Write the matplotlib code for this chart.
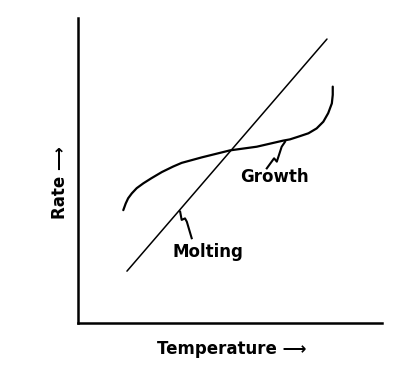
import matplotlib
matplotlib.use("Agg")
import matplotlib.pyplot as plt

# Schematic data (arbitrary units, axes 0-10)
molting_x = [1.61, 8.19]
molting_y = [1.70, 9.31]

growth_x = [1.49, 1.57, 1.65, 1.77, 1.93, 2.15, 2.42, 2.76, 3.13, 3.41, 4.07, 5.00,
            5.88, 6.75, 6.97, 7.25, 7.58, 7.85, 8.07, 8.23, 8.35, 8.38, 8.38]
growth_y = [3.70, 3.92, 4.09, 4.25, 4.42, 4.58, 4.75, 4.95, 5.13, 5.25, 5.43, 5.66,
            5.78, 5.98, 6.02, 6.11, 6.22, 6.38, 6.60, 6.88, 7.20, 7.48, 7.75]

# hand-drawn leader squiggles from labels to curves
growth_leader_x = [6.21, 6.45, 6.54, 6.70, 6.81]
growth_leader_y = [5.07, 5.40, 5.29, 5.78, 5.94]
molting_leader_x = [3.36, 3.41, 3.52, 3.58, 3.74]
molting_leader_y = [3.65, 3.38, 3.43, 3.32, 2.78]

labels = ["Growth", "Molting"]
label_pos = [(6.45, 4.79), (4.28, 2.33)]

fig = plt.figure(figsize=(4.16, 3.67), dpi=100)
ax = fig.add_axes([78/416, 1 - 323/367, 304/416, 305/367])
ax.set_xlim(0, 10)
ax.set_ylim(0, 10)

ax.plot(molting_x, molting_y, color="black", lw=1.1, solid_capstyle="round")
ax.plot(growth_x, growth_y, color="black", lw=1.6, solid_capstyle="round",
        solid_joinstyle="round")
ax.plot(growth_leader_x, growth_leader_y, color="black", lw=1.5, solid_joinstyle="round")
ax.plot(molting_leader_x, molting_leader_y, color="black", lw=1.5, solid_joinstyle="round")

for lab, (lx, ly) in zip(labels, label_pos):
    ax.text(lx, ly, lab, ha="center", va="center", fontsize=12,
            fontweight="bold", family="DejaVu Sans")

for side in ["top", "right"]:
    ax.spines[side].set_visible(False)
for side in ["left", "bottom"]:
    ax.spines[side].set_linewidth(1.8)
ax.set_xticks([])
ax.set_yticks([])

fig.text(232/416, 1 - 349/367, "Temperature \u27f6", ha="center", va="center",
         fontsize=12, fontweight="bold", family="DejaVu Sans")
fig.text(60/416, 1 - 183/367, "Rate \u27f6", ha="center", va="center",
         rotation=90, fontsize=12, fontweight="bold", family="DejaVu Sans")

fig.savefig("out.png", dpi=100, facecolor="white")
